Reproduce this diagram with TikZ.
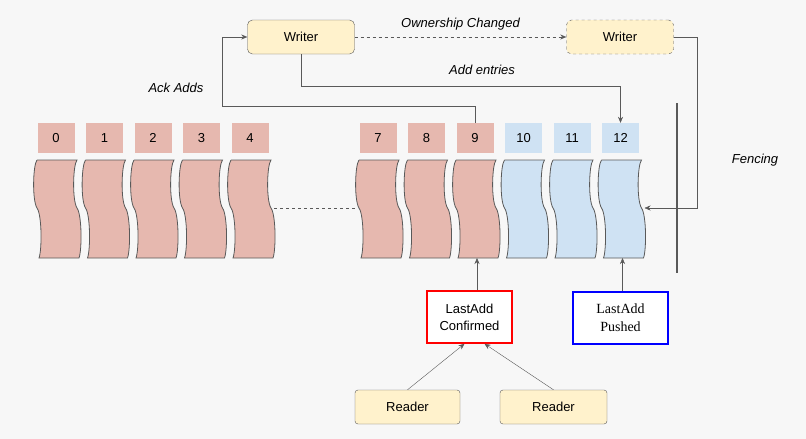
\documentclass[tikz,border=0pt]{standalone}
\usepackage{fontspec}
\setmainfont{Liberation Sans}
\newfontfamily\seriffont{Liberation Serif}
\usetikzlibrary{arrows.meta}
\definecolor{cred}{HTML}{E6B8AF}
\definecolor{cblue}{HTML}{CFE2F3}
\definecolor{wy}{HTML}{FFF2CC}
\definecolor{ln}{HTML}{595959}
\begin{document}
\begin{tikzpicture}[x=1pt,y=-1pt,
 lab/.style={minimum width=37pt,minimum height=30pt,inner sep=0pt,font=\fontsize{13}{15}\selectfont},
 wr/.style={draw=ln,fill=wy,rounded corners=5pt,minimum width=107pt,minimum height=34pt,font=\fontsize{13}{15}\selectfont},
 arr/.style={draw=ln,-{Stealth[length=6pt,width=5pt]}},
 it/.style={font=\itshape\fontsize{13}{15}\selectfont}]
\fill[white!97!black] (0,0) rectangle (806,439);
\useasboundingbox (0,0) rectangle (806,439);
\def\cell#1#2#3{%
 \node[lab,fill=#3] (l#2) at (#1+21,138) {#2};
 \filldraw[fill=#3,draw=ln,thick] (#1+2,160) -- (#1+42,160)
  .. controls (#1+38,165) and (#1+37,200) .. (#1+42,208)
  .. controls (#1+47,215) and (#1+47,250) .. (#1+44,258)
  -- (#1+4,258)
  .. controls (#1+7,250) and (#1+7,215) .. (#1+2,208)
  .. controls (#1-3,200) and (#1-2,165) .. (#1+2,160);
 \coordinate (t#2) at (#1+23,258);
 \coordinate (r#2) at (#1+45,208);
 \coordinate (lf#2) at (#1+1,208);
}
\cell{35}{0}{cred}
\cell{83.5}{1}{cred}
\cell{132}{2}{cred}
\cell{180.5}{3}{cred}
\cell{229}{4}{cred}
\cell{357}{7}{cred}
\cell{405.5}{8}{cred}
\cell{454}{9}{cred}
\cell{502.5}{10}{cblue}
\cell{551}{11}{cblue}
\cell{599.5}{12}{cblue}
\draw[ln,dashed] (r4) -- (lf7);
\node[wr] (w1) at (301,37) {Writer};
\node[wr,dashed] (w2) at (620,37) {Writer};
\draw[arr,dashed] (w1) -- node[it,above=3pt]{Ownership Changed} (w2);
\node[it] (ae) at (482,70) {Add entries};
\node[it] (aa) at (176,88) {Ack Adds};
\node[it] (fe) at (755,160) {Fencing};
\draw[arr] (w1.south) -- ++(0,32) -| (l12.north);
\draw[arr] (l9.north) -- ++(0,-17) -| (222,37) -- (w1.west);
\draw[arr] (w2.east) -- (697,37) |- (r12);
\draw[ln,line width=1.5pt] (677,103) -- (677,273);
\node[draw=red,line width=1.5pt,fill=white,minimum width=85pt,minimum height=52pt,align=center,font=\fontsize{13}{17}\selectfont] (lc) at (469.5,317) {LastAdd\\Confirmed};
\node[draw=blue,line width=1.5pt,fill=white,minimum width=95pt,minimum height=52pt,align=center,font=\seriffont\fontsize{14}{18}\selectfont] (lp) at (620.5,318) {LastAdd\\Pushed};
\draw[arr] (lc.north -| t9) -- (t9);
\draw[arr] (lp.north -| t12) -- (t12);
\node[wr,rounded corners=3pt,minimum width=105pt] (r1) at (407.5,407) {Reader};
\node[wr,rounded corners=3pt,minimum width=107pt] (r2) at (553.5,407) {Reader};
\draw[arr] (r1.north) -- ([xshift=-5pt]lc.south);
\draw[arr] (r2.north) -- ([xshift=15pt]lc.south);
\end{tikzpicture}
\end{document}
